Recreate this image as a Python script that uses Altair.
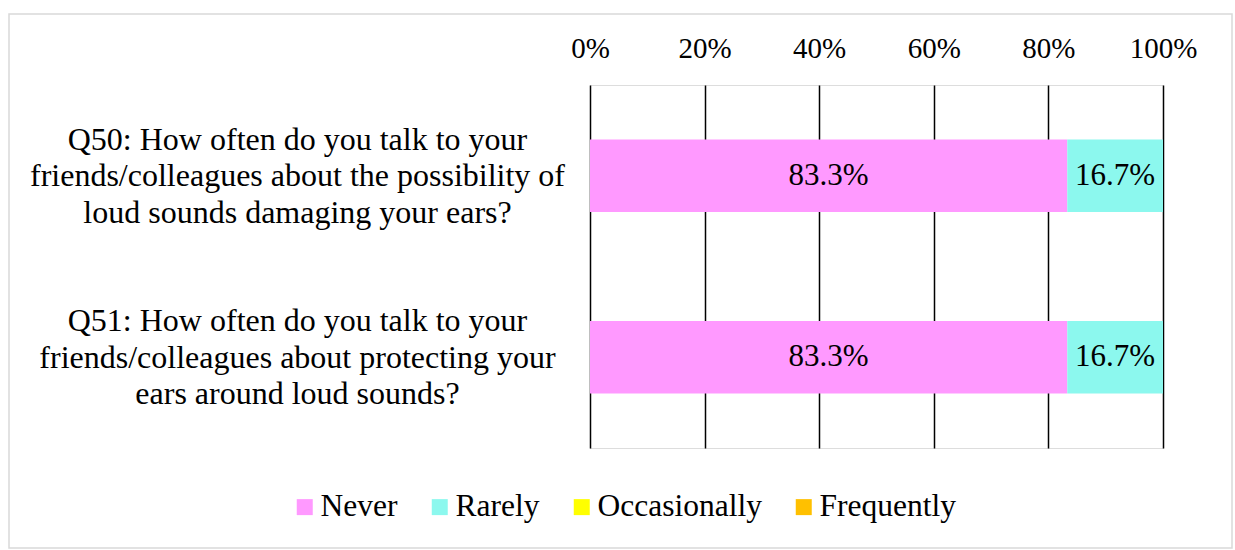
import altair as alt
import pandas as pd

# Survey questions (lines separated by "|") and response shares (%)
questions = [
    "Q50: How often do you talk to your|friends/colleagues about the possibility of|loud sounds damaging your ears?",
    "Q51: How often do you talk to your|friends/colleagues about protecting your|ears around loud sounds?",
]
responses = ["Never", "Rarely", "Occasionally", "Frequently"]
colors = ["#FF99FF", "#8CF8EE", "#FFFF00", "#FFC000"]
never = [83.3, 83.3]
rarely = [16.7, 16.7]
occasionally = [0.0, 0.0]
frequently = [0.0, 0.0]

rows = []
for i, q in enumerate(questions):
    for r, v in zip(responses, [never[i], rarely[i], occasionally[i], frequently[i]]):
        rows.append({"question": q, "response": r, "order": responses.index(r), "pct": v})
df = pd.DataFrame(rows)

FONT = "Liberation Serif"

base = alt.Chart(df).transform_calculate(
    share="datum.pct / 100"
).transform_stack(
    stack="share", groupby=["question"], as_=["x0", "x1"],
    sort=[alt.SortField("order", order="ascending")],
).transform_calculate(
    mid="(datum.x0 + datum.x1) / 2",
    lab="format(datum.pct, '.1f') + '%'",
)

y_enc = alt.Y(
    "question:N", sort=questions, title=None,
    scale=alt.Scale(paddingInner=0.6, paddingOuter=0.3),
    axis=alt.Axis(
        labelExpr="split(datum.label, '|')",
        labelAlign="center", labelBaseline="middle", labelPadding=293,
        labelOffset=-36,
        labelLineHeight=36.5, labelFont=FONT, labelFontSize=32, labelColor="black",
        labelLimit=0, ticks=False, tickSize=0, domain=False, grid=False,
    ),
)

bars = base.mark_bar().encode(
    y=y_enc,
    x=alt.X(
        "x0:Q", title=None,
        scale=alt.Scale(domain=[0, 1], nice=False),
        axis=alt.Axis(
            orient="top", values=[0, 0.2, 0.4, 0.6, 0.8, 1.0], format=".0%",
            labelFont=FONT, labelFontSize=29, labelColor="black", labelPadding=22,
            labelFlush=False,
            grid=True, gridColor="black", gridWidth=1.5, ticks=False,
            domain=False,
        ),
    ),
    x2="x1:Q",
    color=alt.Color(
        "response:N", sort=responses,
        scale=alt.Scale(domain=responses, range=colors),
        legend=alt.Legend(
            title=None, orient="none", direction="horizontal",
            legendX=-301, legendY=406,
            symbolType="square", symbolSize=256, symbolStrokeWidth=0,
            labelFont=FONT, labelFontSize=31.5, labelColor="black",
            labelOffset=0, columnPadding=26, labelLimit=0,
        ),
    ),
    order=alt.Order("order:Q"),
)

labels = base.transform_filter("datum.pct > 0").mark_text(
    font=FONT, fontSize=31, color="black", baseline="middle"
).encode(
    y=alt.Y("question:N", sort=questions),
    x=alt.X("mid:Q"),
    text="lab:N",
)

frame = alt.Chart(pd.DataFrame({"k": [0]})).mark_rect(
    fill="transparent", stroke="#D9D9D9", strokeWidth=1.5
).encode(
    x=alt.value(-581), x2=alt.value(642), y=alt.value(-71), y2=alt.value(463)
)

chart = alt.layer(frame, bars, labels).properties(
    width=573, height=363,
    autosize=alt.AutoSizeParams(type="none"),
    padding={"left": 590, "top": 85, "right": 72, "bottom": 102},
).configure_view(stroke=None).configure(background="white")

chart.save("out.html", embed_options={"renderer": "svg", "actions": False})
